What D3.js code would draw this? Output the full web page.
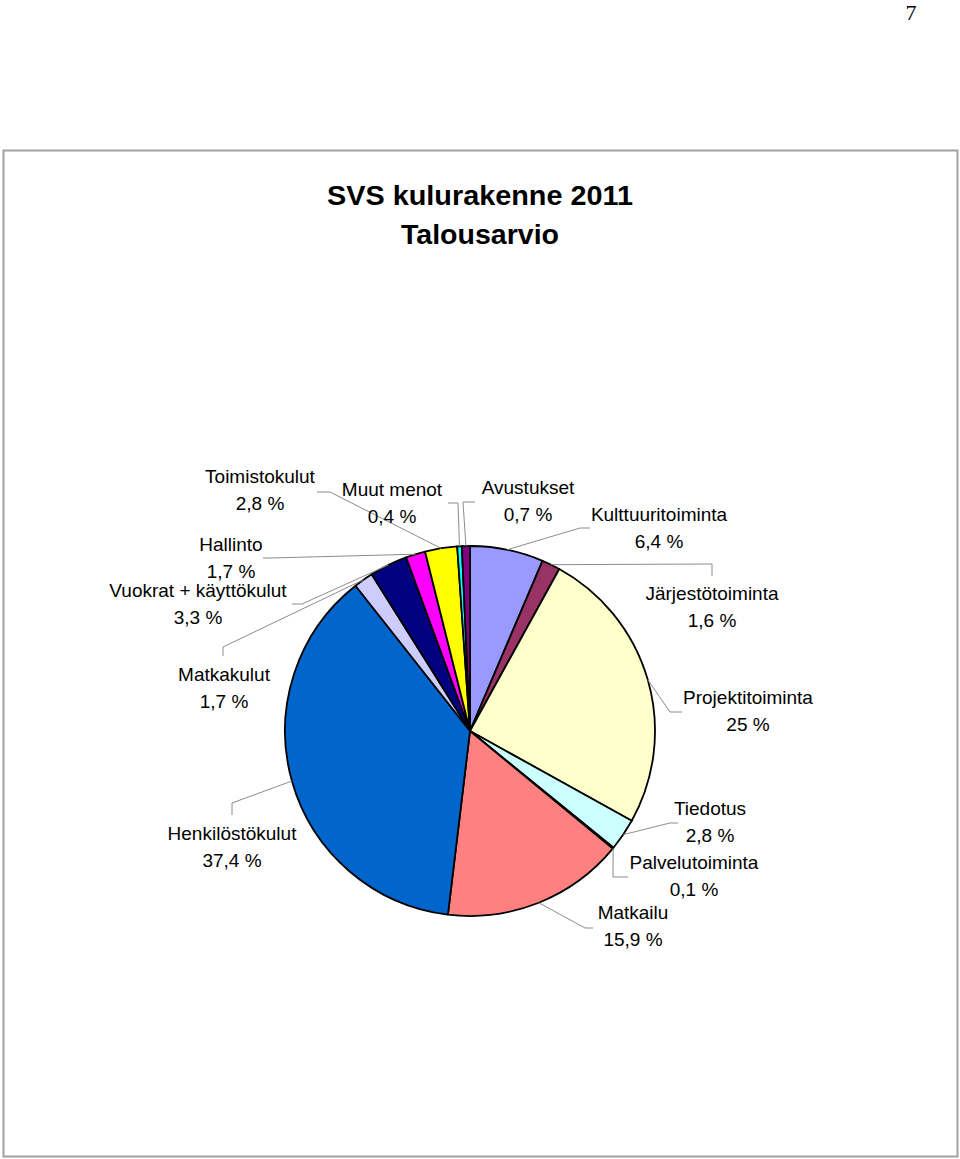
<!DOCTYPE html>
<html>
<head>
<meta charset="utf-8">
<script src="https://cdn.jsdelivr.net/npm/d3@7/dist/d3.min.js"></script>
<style>
  html, body { margin: 0; padding: 0; background: #fff; }
  svg { display: block; }
</style>
</head>
<body>
<svg id="chart" width="960" height="1159"></svg>
<script>
// ---- data ----
const categories = [
  "Kulttuuritoiminta", "Järjestötoiminta", "Projektitoiminta", "Tiedotus",
  "Palvelutoiminta", "Matkailu", "Henkilöstökulut", "Matkakulut",
  "Vuokrat + käyttökulut", "Hallinto", "Toimistokulut", "Muut menot", "Avustukset"
];
const values = [6.4, 1.6, 25, 2.8, 0.1, 15.9, 37.4, 1.7, 3.3, 1.7, 2.8, 0.4, 0.7];
const valueLabels = ["6,4 %", "1,6 %", "25 %", "2,8 %", "0,1 %", "15,9 %", "37,4 %",
  "1,7 %", "3,3 %", "1,7 %", "2,8 %", "0,4 %", "0,7 %"];
const colors = ["#9999FF", "#993366", "#FFFFCC", "#CCFFFF", "#660066", "#FF8080",
  "#0066CC", "#CCCCFF", "#000080", "#FF00FF", "#FFFF00", "#00FFFF", "#800080"];
const titleLines = ["SVS kulurakenne 2011", "Talousarvio"];

// ---- layout (label centres and leader anchor/elbow points) ----
const labelLayout = [
  { x: 659, y: 514, a: [590, 528], e: [580, 528] },
  { x: 712, y: 593, a: [712, 576], e: [712, 564] },
  { x: 748, y: 697, a: [682, 712], e: [670, 712] },
  { x: 710, y: 808, a: [678, 823], e: [670, 823] },
  { x: 694, y: 862, a: [628, 877], e: [613, 877] },
  { x: 633, y: 912, a: [593, 928], e: [585, 928] },
  { x: 232, y: 833, a: [232, 815], e: [232, 803] },
  { x: 224, y: 674, a: [223, 656], e: [223, 647] },
  { x: 198, y: 590, a: [292, 604], e: [302, 604] },
  { x: 231, y: 544, a: [263, 558], e: [270, 558] },
  { x: 260, y: 476, a: [317, 492], e: [330, 492] },
  { x: 392, y: 489, a: [448, 503], e: [458, 503] },
  { x: 528, y: 487, a: [475, 502], e: [463, 502] }
];

const svg = d3.select("#chart");
const cx = 470, cy = 731, R = 185;
const font = "'Liberation Sans', Arial, Helvetica, sans-serif";

// page number
svg.append("text").attr("x", 911).attr("y", 20)
  .attr("text-anchor", "middle")
  .style("font-family", "'Liberation Serif', 'Times New Roman', serif")
  .style("font-size", "22px").text("7");

// frame
svg.append("rect").attr("x", 3.5).attr("y", 150.5)
  .attr("width", 954).attr("height", 1006)
  .attr("fill", "none").attr("stroke", "#a0a0a0").attr("stroke-width", 2);

// title
svg.append("g").selectAll("text").data(titleLines).join("text")
  .attr("x", 480).attr("y", (d, i) => 205 + i * 39)
  .attr("text-anchor", "middle")
  .style("font-family", font).style("font-weight", "bold")
  .style("font-size", "27px")
  .attr("textLength", (d, i) => i === 0 ? 306 : 158)
  .attr("lengthAdjust", "spacingAndGlyphs")
  .text(d => d);

const data = categories.map((c, i) => ({ name: c, value: values[i], label: valueLabels[i], color: colors[i], lay: labelLayout[i] }));

const pie = d3.pie().sort(null).value(d => d.value).startAngle(0).endAngle(2 * Math.PI);
const arcs = pie(data);
const arc = d3.arc().innerRadius(0).outerRadius(R);
const edge = d3.arc().innerRadius(R).outerRadius(R);

const g = svg.append("g").attr("transform", `translate(${cx},${cy})`);

g.selectAll("path.slice").data(arcs).join("path")
  .attr("class", "slice")
  .attr("d", arc)
  .attr("fill", d => d.data.color)
  .attr("stroke", "#000").attr("stroke-width", 1.8)
  .attr("stroke-linejoin", "round");

// leader lines
const line = d3.line();
svg.append("g").selectAll("path").data(arcs).join("path")
  .attr("d", d => {
    const c = edge.centroid(d);
    const p = [cx + c[0], cy + c[1]];
    return line([d.data.lay.a, d.data.lay.e, p]);
  })
  .attr("fill", "none").attr("stroke", "#8c8c8c").attr("stroke-width", 1);

// labels
const lg = svg.append("g").style("font-family", font).style("font-size", "19px");
arcs.forEach(d => {
  const L = d.data.lay;
  lg.append("text").attr("x", L.x).attr("y", L.y + 7).attr("text-anchor", "middle").text(d.data.name);
  lg.append("text").attr("x", L.x).attr("y", L.y + 34).attr("text-anchor", "middle").text(d.data.label);
});
</script>
</body>
</html>
